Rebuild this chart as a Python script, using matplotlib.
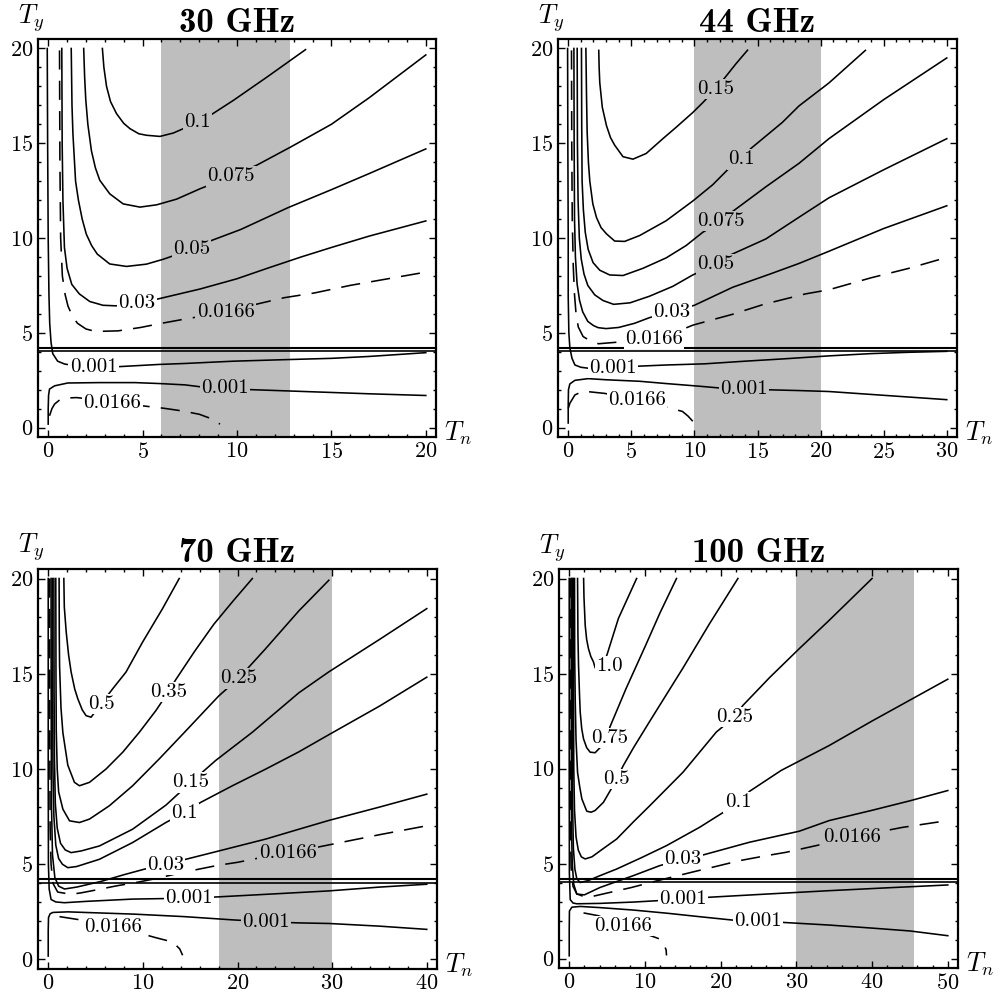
import matplotlib
matplotlib.use("Agg")
from matplotlib import pyplot as plt
from matplotlib.ticker import MultipleLocator

plt.rcParams["font.family"] = "cmr10"
plt.rcParams["mathtext.fontset"] = "cm"
plt.rcParams["axes.formatter.use_mathtext"] = True

# contour lines as (Tn, Ty) pairs

# ---- 30 GHz ----
c30_001_up = [(-0.05, 20.0), (-0.03, 15.0), (0.0, 10.0), (0.04, 7.0), (0.08, 5.5), (0.15, 4.5), (0.24, 3.9),
              (0.5, 3.5), (0.87, 3.35), (1.5, 3.25), (2.4, 3.2), (3.7, 3.21), (5.9, 3.33), (7.25, 3.38),
              (9.8, 3.5), (12.5, 3.58), (15.0, 3.65), (17.0, 3.75), (18.5, 3.85), (20.0, 3.95)]
c30_001_lo = [(0.0, 0.18), (0.0, 1.0), (0.02, 1.7), (0.07, 2.03), (0.34, 2.2), (1.04, 2.35), (2.7, 2.37),
              (4.6, 2.37), (5.9, 2.32), (7.25, 2.25), (8.05, 2.15), (9.35, 2.06), (10.7, 2.0), (13.0, 1.92),
              (15.0, 1.85), (17.0, 1.78), (20.0, 1.69)]
c30_0166_up = [(0.6, 19.9), (0.62, 14.0), (0.66, 10.0), (0.75, 8.0), (0.9, 7.0), (1.05, 6.4), (1.3, 5.85),
               (1.55, 5.5), (2.0, 5.2), (2.5, 5.07), (3.7, 5.1), (4.9, 5.28), (5.9, 5.48), (7.0, 5.68),
               (8.0, 5.85), (9.4, 6.1), (11.0, 6.5), (12.5, 6.85), (14.1, 7.1), (16.0, 7.5), (18.0, 7.85),
               (20.0, 8.2)]
c30_0166_lo = [(0.07, 0.62), (0.2, 1.0), (0.34, 1.24), (0.6, 1.45), (0.87, 1.55), (1.5, 1.58), (2.5, 1.47),
               (3.4, 1.35), (4.5, 1.2), (6.1, 1.02), (7.07, 0.88), (8.0, 0.7), (8.6, 0.48), (9.1, 0.18)]
c30_03 = [(0.72, 20.0), (0.74, 15.0), (0.78, 12.0), (0.86, 9.5), (1.0, 8.4), (1.25, 7.55), (1.65, 7.05),
          (2.2, 6.65), (2.9, 6.45), (3.6, 6.42), (4.7, 6.55), (5.8, 6.78), (8.05, 7.31), (10.0, 7.85),
          (11.6, 8.4), (13.4, 9.0), (15.0, 9.5), (17.0, 10.1), (20.0, 10.9)]
c30_05 = [(1.22, 20.0), (1.26, 17.0), (1.31, 15.5), (1.45, 13.0), (1.6, 12.0), (1.8, 11.0), (2.02, 10.2),
          (2.3, 9.6), (2.6, 9.15), (3.26, 8.63), (4.15, 8.5), (5.2, 8.62), (6.1, 8.88), (7.6, 9.4),
          (8.6, 9.85), (10.2, 10.45), (12.7, 11.6), (15.0, 12.55), (17.0, 13.4), (20.0, 14.7)]
c30_075 = [(1.88, 20.0), (1.93, 18.5), (1.99, 17.3), (2.1, 16.0), (2.29, 14.6), (2.5, 13.7), (2.73, 13.05),
           (3.26, 12.33), (3.97, 11.8), (4.86, 11.63), (5.74, 11.75), (6.8, 12.05), (8.05, 12.6),
           (9.7, 13.25), (11.06, 13.85), (12.84, 14.8), (15.0, 16.0), (17.0, 17.4), (20.0, 19.66)]
c30_1 = [(2.87, 20.0), (2.95, 19.0), (3.09, 18.0), (3.3, 17.2), (3.62, 16.56), (4.0, 16.05), (4.33, 15.77),
         (4.8, 15.5), (5.21, 15.42), (5.92, 15.36), (6.63, 15.54), (7.16, 15.77), (7.9, 16.1), (8.58, 16.47),
         (9.82, 17.27), (11.6, 18.5), (13.63, 19.94)]

# ---- 44 GHz ----
c44_001_up = [(-0.05, 20.0), (-0.03, 15.0), (0.0, 10.0), (0.0, 6.9), (0.05, 5.0), (0.13, 4.2), (0.3, 3.65),
              (0.53, 3.3), (1.0, 3.18), (1.58, 3.13), (3.55, 3.15), (5.66, 3.24), (7.8, 3.3), (10.79, 3.36),
              (14.0, 3.5), (17.0, 3.62), (20.66, 3.78), (24.0, 3.9), (27.0, 3.97), (30.0, 4.02)]
c44_001_lo = [(0.0, 0.24), (0.0, 1.2), (0.02, 2.0), (0.13, 2.3), (0.53, 2.49), (1.58, 2.58), (3.0, 2.52),
              (5.66, 2.44), (7.76, 2.32), (10.39, 2.18), (12.1, 2.08), (13.95, 2.02), (15.92, 1.99),
              (18.3, 1.95), (20.66, 1.9), (25.0, 1.7), (30.0, 1.47)]
c44_0166_up = [(0.26, 19.9), (0.28, 15.0), (0.32, 11.0), (0.4, 8.5), (0.5, 7.0), (0.62, 6.0), (0.8, 5.3),
               (1.18, 4.8), (1.8, 4.55), (2.4, 4.42), (4.2, 4.52), (6.8, 4.7), (8.4, 5.0), (9.87, 5.4),
               (11.5, 5.7), (13.0, 5.97), (15.5, 6.5), (18.8, 7.05), (20.66, 7.27), (24.0, 7.9), (27.0, 8.4),
               (29.6, 8.9)]
c44_0166_lo = [(0.0, 1.0), (0.13, 1.28), (0.53, 1.72), (1.18, 1.92), (2.9, 1.8), (5.47, 1.45), (7.5, 1.12),
               (9.05, 0.85), (9.5, 0.6), (9.87, 0.33)]
c44_03 = [(0.45, 20.0), (0.47, 15.0), (0.5, 11.0), (0.57, 9.0), (0.7, 7.6), (0.9, 6.7), (1.15, 6.1),
          (1.55, 5.6), (2.0, 5.38), (2.37, 5.27), (3.0, 5.22), (4.0, 5.28), (5.26, 5.5), (6.45, 5.8),
          (8.2, 6.1), (10.0, 6.45), (13.03, 7.4), (16.0, 8.1), (18.3, 8.66), (20.66, 9.3), (25.0, 10.5),
          (30.0, 11.7)]
c44_05 = [(0.71, 20.0), (0.73, 15.0), (0.78, 12.0), (0.88, 10.0), (1.03, 8.9), (1.25, 8.1), (1.55, 7.5),
          (2.1, 7.0), (2.76, 6.7), (3.6, 6.5), (4.9, 6.58), (6.45, 6.93), (8.29, 7.45), (9.87, 8.05),
          (11.7, 8.6), (12.5, 9.0), (15.66, 9.95), (18.3, 11.1), (20.66, 12.12), (25.0, 13.6), (30.0, 15.24)]
c44_075 = [(1.05, 20.0), (1.07, 16.0), (1.1, 13.0), (1.2, 11.5), (1.35, 10.3), (1.58, 9.4), (1.97, 8.7),
           (2.5, 8.3), (3.29, 8.05), (4.34, 8.02), (5.92, 8.4), (7.76, 8.95), (9.34, 9.6), (10.66, 10.3),
           (12.3, 10.95), (13.03, 11.4), (15.66, 12.7), (18.29, 13.94), (20.66, 15.24), (25.0, 17.3),
           (30.0, 19.5)]
c44_1 = [(1.4, 20.0), (1.45, 17.5), (1.5, 15.6), (1.6, 14.0), (1.71, 13.0), (1.95, 11.8), (2.24, 11.08),
         (2.6, 10.55), (3.03, 10.22), (3.68, 9.84), (4.47, 9.82), (5.66, 10.13), (7.76, 10.91), (9.87, 11.95),
         (11.45, 12.81), (12.63, 13.6), (13.7, 14.15), (14.47, 14.72), (16.97, 16.1), (18.29, 16.97),
         (20.66, 18.18), (23.55, 19.9)]
c44_15 = [(2.42, 19.9), (2.45, 19.0), (2.5, 18.2), (2.7, 16.9), (3.03, 15.93), (3.35, 15.3), (3.68, 14.9),
          (4.34, 14.29), (5.13, 14.16), (6.18, 14.46), (7.5, 15.24), (8.55, 15.84), (9.87, 16.62),
          (10.66, 17.14), (11.7, 17.87), (12.5, 18.53), (13.3, 19.2), (14.21, 19.91)]

# ---- 70 GHz ----
c70_001_up = [(0.0, 20.0), (0.0, 10.0), (0.02, 5.0), (0.1, 3.7), (0.3, 3.15), (0.8, 3.02), (1.72, 2.98),
              (4.0, 3.05), (8.9, 3.17), (12.6, 3.2), (14.9, 3.23), (17.7, 3.28), (23.0, 3.42), (29.65, 3.6),
              (35.0, 3.8), (40.0, 3.95)]
c70_001_lo = [(0.0, 0.18), (0.0, 1.5), (0.03, 2.2), (0.2, 2.4), (0.5, 2.47), (2.07, 2.5), (5.0, 2.45),
              (9.09, 2.38), (14.36, 2.25), (19.46, 2.08), (23.0, 1.98), (26.5, 1.92), (29.65, 1.89),
              (35.0, 1.75), (40.0, 1.58)]
c70_0166_up = [(0.15, 20.0), (0.16, 12.0), (0.2, 7.0), (0.3, 5.0), (0.5, 4.0), (1.0, 3.54), (2.4, 3.42),
               (3.5, 3.5), (5.06, 3.65), (7.16, 3.86), (9.6, 4.07), (11.4, 4.25), (14.0, 4.55), (18.0, 4.95),
               (20.0, 5.1), (22.0, 5.3), (25.3, 5.6), (28.0, 5.85), (30.0, 6.05), (35.0, 6.55), (40.0, 7.02)]
c70_0166_lo = [(1.19, 2.25), (3.12, 2.1), (5.0, 1.9), (6.8, 1.7), (8.5, 1.5), (10.1, 1.32), (11.4, 1.14),
               (12.5, 1.0), (13.3, 0.85), (13.9, 0.55), (14.2, 0.22)]
c70_03 = [(0.3, 20.0), (0.32, 12.0), (0.35, 8.0), (0.45, 5.5), (0.7, 4.3), (1.1, 3.85), (1.72, 3.7),
          (3.0, 3.8), (5.6, 4.1), (8.0, 4.45), (10.15, 4.74), (12.5, 5.0), (14.54, 5.26), (18.05, 5.7),
          (22.97, 6.32), (26.5, 6.84), (29.65, 7.3), (35.0, 8.0), (40.0, 8.68)]
c70_1 = [(0.45, 20.0), (0.47, 14.0), (0.5, 10.0), (0.6, 7.5), (0.8, 6.0), (1.1, 5.3), (1.5, 5.0),
         (2.07, 4.82), (3.0, 4.88), (5.41, 5.26), (8.92, 6.14), (12.43, 7.19), (14.54, 7.75), (16.12, 8.25),
         (19.46, 9.12), (23.0, 10.0), (26.48, 10.9), (29.65, 11.8), (35.0, 13.3), (40.0, 14.82)]
c70_15 = [(0.6, 20.0), (0.62, 14.0), (0.66, 10.5), (0.75, 8.2), (0.95, 6.9), (1.3, 6.1), (1.8, 5.75),
          (2.42, 5.61), (3.5, 5.7), (5.41, 5.96), (8.92, 6.84), (12.43, 8.1), (15.07, 9.3), (17.7, 10.45),
          (21.57, 11.93), (26.48, 14.0), (29.65, 15.1), (35.0, 16.8), (40.0, 18.42)]
c70_25 = [(0.8, 20.0), (0.82, 15.0), (0.85, 12.0), (0.95, 10.0), (1.1, 8.8), (1.55, 7.89), (2.25, 7.28),
          (3.3, 7.19), (4.36, 7.37), (6.46, 8.07), (8.92, 9.12), (11.73, 10.53), (14.54, 12.0), (17.0, 13.3),
          (18.05, 13.85), (20.1, 14.75), (22.94, 16.3), (26.48, 18.3), (29.65, 19.91)]
c70_35 = [(1.15, 20.0), (1.17, 17.0), (1.2, 15.4), (1.35, 13.2), (1.55, 11.9), (2.07, 10.2), (2.77, 9.3),
          (3.3, 9.12), (4.36, 9.3), (6.11, 10.0), (7.87, 10.88), (9.63, 11.93), (11.38, 13.07), (12.5, 13.9),
          (13.49, 14.7), (15.5, 16.2), (17.5, 17.6), (19.5, 18.8), (21.57, 20.0)]
c70_5 = [(1.65, 20.0), (1.7, 18.5), (1.9, 17.2), (2.15, 16.0), (2.42, 15.09), (2.8, 14.2), (3.13, 13.68),
         (3.6, 13.1), (4.0, 12.8), (4.53, 12.72), (5.4, 13.3), (6.81, 14.21), (8.22, 15.09), (9.98, 16.67),
         (12.08, 18.42), (13.84, 20.0)]

# ---- 100 GHz ----
c100_001_up = [(0.0, 20.0), (0.0, 10.0), (0.02, 4.5), (0.13, 3.1), (0.5, 2.92), (1.0, 2.88), (4.0, 2.9),
               (8.46, 2.97), (11.54, 3.04), (15.04, 3.13), (18.33, 3.22), (26.0, 3.39), (34.34, 3.57),
               (42.0, 3.72), (50.0, 3.87)]
c100_001_lo = [(0.0, 0.14), (0.0, 1.5), (0.03, 2.5), (0.35, 2.7), (1.45, 2.74), (4.0, 2.68), (8.46, 2.55),
               (13.0, 2.38), (17.24, 2.2), (21.62, 2.02), (24.9, 1.95), (28.2, 1.9), (34.34, 1.76),
               (40.0, 1.6), (45.0, 1.45), (50.0, 1.2)]
c100_0166_up = [(0.12, 20.0), (0.13, 12.0), (0.16, 7.0), (0.25, 4.8), (0.5, 3.8), (1.0, 3.4), (2.0, 3.25),
                (3.2, 3.28), (5.39, 3.48), (8.25, 3.74), (11.7, 4.1), (13.73, 4.3), (16.8, 4.6), (19.43, 4.85),
                (22.5, 5.15), (26.0, 5.41), (28.64, 5.59), (32.6, 5.94), (37.3, 6.38), (44.0, 6.9),
                (50.0, 7.26)]
c100_0166_lo = [(1.89, 2.4), (3.86, 2.25), (5.5, 1.98), (7.1, 1.72), (9.5, 1.38), (12.0, 1.02), (12.5, 0.75),
                (12.8, 0.45), (12.85, 0.16)]
c100_03 = [(0.25, 20.0), (0.27, 12.0), (0.3, 7.0), (0.4, 5.0), (0.6, 3.9), (1.0, 3.39), (2.0, 3.35),
           (4.08, 3.74), (8.46, 4.36), (11.97, 4.89), (15.26, 5.25), (17.68, 5.45), (23.82, 6.12),
           (30.39, 6.7), (34.34, 7.26), (40.0, 7.8), (45.0, 8.3), (50.0, 8.84)]
c100_1 = [(0.4, 20.0), (0.42, 12.0), (0.45, 8.0), (0.55, 5.8), (0.75, 4.7), (1.0, 4.2), (1.45, 4.0),
          (2.5, 4.1), (4.0, 4.35), (6.27, 4.71), (9.5, 5.3), (12.85, 5.94), (17.24, 6.91), (20.75, 7.79),
          (22.5, 8.25), (23.82, 8.8), (28.0, 9.9), (34.34, 11.21), (40.0, 12.5), (45.0, 13.6), (50.0, 14.7)]
c100_25 = [(0.55, 20.0), (0.57, 14.0), (0.6, 10.0), (0.7, 7.8), (0.9, 6.4), (1.2, 5.7), (1.6, 5.35),
           (2.1, 5.24), (3.0, 5.35), (4.2, 5.7), (6.27, 6.29), (8.5, 7.2), (10.66, 8.05), (15.04, 9.81),
           (19.43, 11.92), (21.8, 12.7), (22.94, 13.32), (26.5, 14.8), (30.39, 16.31), (34.34, 17.8),
           (40.0, 20.0)]
c100_5 = [(0.7, 20.0), (0.72, 16.0), (0.79, 13.67), (0.9, 11.5), (1.1, 9.8), (1.4, 9.0), (1.67, 8.4),
          (2.32, 7.75), (2.9, 7.7), (3.42, 7.79), (4.52, 8.22), (5.8, 9.1), (7.15, 10.16), (8.5, 11.1),
          (10.66, 12.5), (15.04, 15.3), (18.5, 17.6), (22.28, 20.0)]
c100_75 = [(1.1, 20.0), (1.15, 17.0), (1.23, 15.43), (1.35, 14.0), (1.45, 12.97), (1.65, 12.1), (1.89, 11.56),
           (2.3, 11.1), (2.76, 10.86), (3.42, 10.83), (4.2, 11.15), (5.0, 11.7), (5.39, 12.2), (7.5, 14.2),
           (10.0, 16.4), (12.0, 18.2), (14.17, 20.0)]
c100_10 = [(1.9, 20.0), (1.95, 19.0), (2.11, 17.54), (2.3, 16.8), (2.54, 16.31), (2.85, 15.9), (3.2, 15.61),
           (3.42, 15.3), (4.0, 15.3), (4.6, 15.55), (5.04, 16.05), (6.5, 17.9), (8.9, 20.0)]

titles = ["30 GHz", "44 GHz", "70 GHz", "100 GHz"]
xmax = [20, 30, 40, 50]
bands = [(6, 12.8), (10, 20), (18, 30), (30, 45.5)]

# line, label text, label position, dashed
lines30 = [(c30_001_up, "0.001", (2.4, 3.2), False), (c30_001_lo, "0.001", (9.35, 2.06), False),
           (c30_0166_up, "0.0166", (9.4, 6.1), True), (c30_0166_lo, "0.0166", (3.4, 1.3), True),
           (c30_03, "0.03", (4.7, 6.55), False), (c30_05, "0.05", (7.6, 9.4), False),
           (c30_075, "0.075", (9.7, 13.25), False), (c30_1, "0.1", (7.9, 16.1), False)]
lines44 = [(c44_001_up, "0.001", (3.55, 3.15), False), (c44_001_lo, "0.001", (13.95, 2.02), False),
           (c44_0166_up, "0.0166", (6.8, 4.68), True), (c44_0166_lo, "0.0166", (5.47, 1.45), True),
           (c44_03, "0.03", (8.2, 6.1), False), (c44_05, "0.05", (11.7, 8.6), False),
           (c44_075, "0.075", (12.1, 10.9), False), (c44_1, "0.1", (13.7, 14.15), False),
           (c44_15, "0.15", (11.7, 17.87), False)]
lines70 = [(c70_001_up, "0.001", (14.9, 3.23), False), (c70_001_lo, "0.001", (23.0, 1.98), False),
           (c70_0166_up, "0.0166", (25.3, 5.6), True), (c70_0166_lo, "0.0166", (6.8, 1.7), True),
           (c70_03, "0.03", (12.4, 4.98), False), (c70_1, "0.1", (14.4, 7.7), False),
           (c70_15, "0.15", (15.07, 9.3), False), (c70_25, "0.25", (20.1, 14.75), False),
           (c70_35, "0.35", (12.7, 14.05), False), (c70_5, "0.5", (5.6, 13.4), False)]
lines100 = [(c100_001_up, "0.001", (15.04, 3.13), False), (c100_001_lo, "0.001", (24.9, 1.95), False),
            (c100_0166_up, "0.0166", (37.3, 6.38), True), (c100_0166_lo, "0.0166", (7.1, 1.72), True),
            (c100_03, "0.03", (15.0, 5.25), False), (c100_1, "0.1", (22.3, 8.22), False),
            (c100_25, "0.25", (21.8, 12.7), False), (c100_5, "0.5", (6.2, 9.45), False),
            (c100_75, "0.75", (5.3, 11.6), False), (c100_10, "1.0", (5.3, 15.4), False)]
all_lines = [lines30, lines44, lines70, lines100]

GRAY = "#bebebe"
W, H = 999, 1005
# axes boxes in pixels: left, top, right, bottom
boxes = [(38, 39, 436, 437), (558, 39, 957, 437), (38, 569, 437, 969), (559, 569, 958, 968)]

fig = plt.figure(figsize=(W / 100, H / 100), dpi=100)
for i in range(4):
    l, t, r, b = boxes[i]
    ax = fig.add_axes([l / W, 1 - b / H, (r - l) / W, (b - t) / H])
    R = xmax[i]
    ax.set_xlim(-0.027 * R, 1.027 * R)
    ax.set_ylim(-0.5, 20.5)
    ax.axvspan(bands[i][0], bands[i][1], color=GRAY, lw=0, zorder=0)
    ax.axhline(4.2, color="k", lw=1.5, zorder=3)
    ax.axhline(4.02, color="k", lw=1.2, zorder=3)
    for pts, lab, (lx, ly), dashed in all_lines[i]:
        xs = [p[0] for p in pts]
        ys = [p[1] for p in pts]
        ax.plot(xs, ys, color="k", lw=1.15, ls=(0, (12, 7)) if dashed else "-", zorder=2)
        bg = GRAY if bands[i][0] < lx < bands[i][1] else "white"
        ax.text(lx, ly, lab, fontsize=15, ha="center", va="center", zorder=5,
                bbox=dict(boxstyle="square,pad=0.06", fc=bg, ec="none"))

    ax.xaxis.set_major_locator(MultipleLocator(5 if R <= 30 else 10))
    ax.xaxis.set_minor_locator(MultipleLocator(1 if R <= 30 else 2))
    ax.yaxis.set_major_locator(MultipleLocator(5))
    ax.yaxis.set_minor_locator(MultipleLocator(1))
    ax.tick_params(which="both", direction="in", top=True, right=True, labelsize=16, width=1)
    ax.tick_params(which="major", length=5)
    ax.tick_params(which="minor", length=2.5)
    for s in ax.spines.values():
        s.set_linewidth(1.6)

    ax.set_title(titles[i], fontfamily="cmb10", fontsize=25, pad=5)
    ax.text(-0.05, 1.04, "$T_y$", transform=ax.transAxes, fontsize=19, ha="left", va="baseline")
    ax.text(1.02, -0.01, "$T_n$", transform=ax.transAxes, fontsize=19, ha="left", va="baseline")

fig.savefig("out.png", dpi=100)
